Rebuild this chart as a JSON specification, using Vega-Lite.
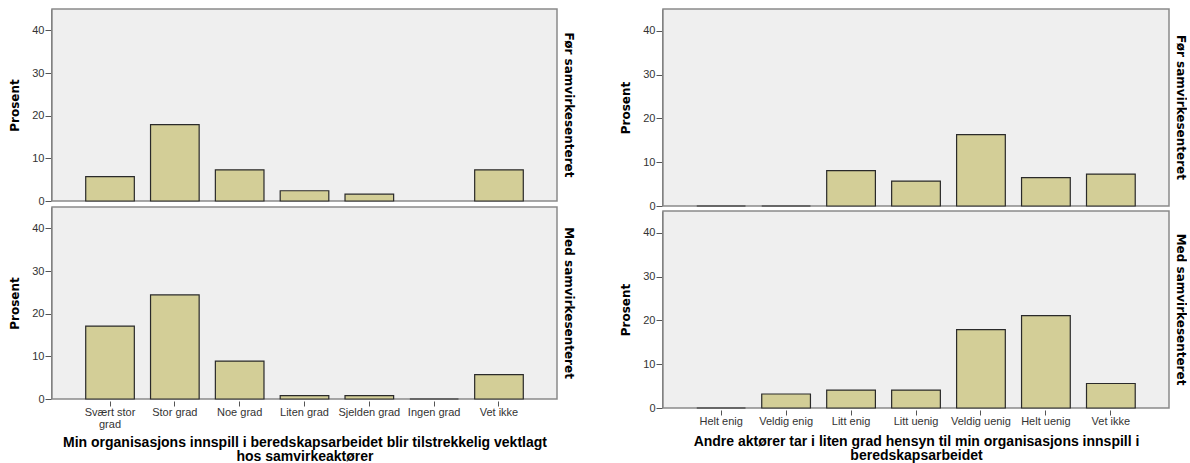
{
  "$schema": "https://vega.github.io/schema/vega-lite/v6.json",
  "background": "white",
  "padding": {"left": 8, "top": 8, "right": 0, "bottom": 0},
  "config": {
    "view": {"fill": "#efefef", "stroke": "#8a8a8a", "strokeWidth": 1.5},
    "axis": {
      "labelFont": "Liberation Sans", "labelFontSize": 11, "labelColor": "#333333",
      "tickColor": "#555555", "domainColor": "#666666", "grid": false, "tickSize": 6,
      "titleFont": "DejaVu Sans", "titleFontWeight": "bold", "titleFontSize": 12, "titleColor": "#000000"
    },
    "header": {
      "labelOrient": "right", "labelAngle": 90, "labelFont": "DejaVu Sans", "labelFontWeight": "bold",
      "labelFontSize": 12, "labelColor": "#000000", "labelPadding": 4
    },
    "concat": {"spacing": 44}
  },
  "datasets": {
    "a": [
      {"periode": "Før samvirkesenteret", "kategori": "Svært stor grad", "prosent": 5.7},
      {"periode": "Før samvirkesenteret", "kategori": "Stor grad", "prosent": 17.9},
      {"periode": "Før samvirkesenteret", "kategori": "Noe grad", "prosent": 7.3},
      {"periode": "Før samvirkesenteret", "kategori": "Liten grad", "prosent": 2.4},
      {"periode": "Før samvirkesenteret", "kategori": "Sjelden grad", "prosent": 1.6},
      {"periode": "Før samvirkesenteret", "kategori": "Vet ikke", "prosent": 7.3},
      {"periode": "Med samvirkesenteret", "kategori": "Svært stor grad", "prosent": 17.1},
      {"periode": "Med samvirkesenteret", "kategori": "Stor grad", "prosent": 24.4},
      {"periode": "Med samvirkesenteret", "kategori": "Noe grad", "prosent": 8.9},
      {"periode": "Med samvirkesenteret", "kategori": "Liten grad", "prosent": 0.8},
      {"periode": "Med samvirkesenteret", "kategori": "Sjelden grad", "prosent": 0.8},
      {"periode": "Med samvirkesenteret", "kategori": "Ingen grad", "prosent": 0},
      {"periode": "Med samvirkesenteret", "kategori": "Vet ikke", "prosent": 5.7}
    ],
    "b": [
      {"periode": "Før samvirkesenteret", "kategori": "Helt enig", "prosent": 0},
      {"periode": "Før samvirkesenteret", "kategori": "Veldig enig", "prosent": 0},
      {"periode": "Før samvirkesenteret", "kategori": "Litt enig", "prosent": 8.1},
      {"periode": "Før samvirkesenteret", "kategori": "Litt uenig", "prosent": 5.7},
      {"periode": "Før samvirkesenteret", "kategori": "Veldig uenig", "prosent": 16.3},
      {"periode": "Før samvirkesenteret", "kategori": "Helt uenig", "prosent": 6.5},
      {"periode": "Før samvirkesenteret", "kategori": "Vet ikke", "prosent": 7.3},
      {"periode": "Med samvirkesenteret", "kategori": "Helt enig", "prosent": 0},
      {"periode": "Med samvirkesenteret", "kategori": "Veldig enig", "prosent": 3.2},
      {"periode": "Med samvirkesenteret", "kategori": "Litt enig", "prosent": 4.1},
      {"periode": "Med samvirkesenteret", "kategori": "Litt uenig", "prosent": 4.1},
      {"periode": "Med samvirkesenteret", "kategori": "Veldig uenig", "prosent": 17.9},
      {"periode": "Med samvirkesenteret", "kategori": "Helt uenig", "prosent": 21.1},
      {"periode": "Med samvirkesenteret", "kategori": "Vet ikke", "prosent": 5.6}
    ]
  },
  "hconcat": [
    {
      "data": {"name": "a"},
      "facet": {"row": {"field": "periode", "type": "nominal", "sort": ["Før samvirkesenteret", "Med samvirkesenteret"], "header": {"title": null}}},
      "spacing": 3,
      "spec": {
        "width": 505, "height": 192,
        "mark": {"type": "bar", "fill": "#d3ce97", "stroke": "#2a2a2a", "strokeWidth": 1.2},
        "encoding": {
          "x": {
            "field": "kategori", "type": "nominal",
            "sort": ["Svært stor grad", "Stor grad", "Noe grad", "Liten grad", "Sjelden grad", "Ingen grad", "Vet ikke"],
            "scale": {"paddingInner": 0.25, "paddingOuter": 0.52},
            "axis": {
              "labelAngle": 0, "labelPadding": 0, "domain": false, "tickSize": 5,
              "labelExpr": "datum.label == 'Svært stor grad' ? ['Svært stor', 'grad'] : datum.label",
              "labelLineHeight": 12,
              "title": ["Min organisasjons innspill i beredskapsarbeidet blir tilstrekkelig vektlagt", "hos samvirkeaktører"],
              "titleFont": "Liberation Sans", "titleFontSize": 14, "titlePadding": 6, "titleLineHeight": 14
            }
          },
          "y": {
            "field": "prosent", "type": "quantitative",
            "scale": {"domain": [0, 45], "nice": false},
            "axis": {"values": [0, 10, 20, 30, 40], "title": "Prosent", "labelPadding": 1, "titlePadding": 10}
          }
        }
      }
    },
    {
      "data": {"name": "b"},
      "facet": {"row": {"field": "periode", "type": "nominal", "sort": ["Før samvirkesenteret", "Med samvirkesenteret"], "header": {"title": null}}},
      "spacing": 2,
      "spec": {
        "width": 506, "height": 197,
        "mark": {"type": "bar", "fill": "#d3ce97", "stroke": "#2a2a2a", "strokeWidth": 1.2},
        "encoding": {
          "x": {
            "field": "kategori", "type": "nominal",
            "sort": ["Helt enig", "Veldig enig", "Litt enig", "Litt uenig", "Veldig uenig", "Helt uenig", "Vet ikke"],
            "scale": {"paddingInner": 0.25, "paddingOuter": 0.52},
            "axis": {
              "labelAngle": 0, "labelPadding": 0, "domain": false, "tickSize": 5,
              "title": ["Andre aktører tar i liten grad hensyn til min organisasjons innspill i", "beredskapsarbeidet"],
              "titleFont": "Liberation Sans", "titleFontSize": 14, "titlePadding": 8, "titleLineHeight": 14
            }
          },
          "y": {
            "field": "prosent", "type": "quantitative",
            "scale": {"domain": [0, 45], "nice": false},
            "axis": {"values": [0, 10, 20, 30, 40], "title": "Prosent", "labelPadding": 1, "titlePadding": 10}
          }
        }
      }
    }
  ]
}
